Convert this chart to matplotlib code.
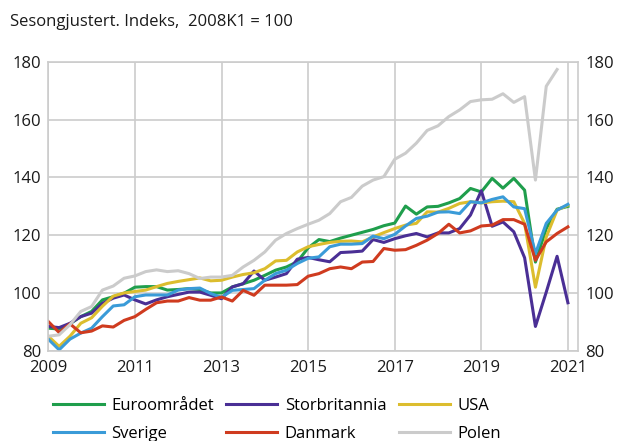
import numpy as np
import matplotlib
matplotlib.use("Agg")
import matplotlib.pyplot as plt

plt.rcParams['font.family'] = ['Open Sans', 'DejaVu Sans']

# kvartaler 2009K1 - 2021K1
kvartal = [f"{aar}K{k}" for aar in range(2009, 2022) for k in range(1, 5)][:49]
tid = np.array([int(q[:4]) + (int(q[-1]) - 1) / 4 for q in kvartal])

euro = [87.8, 87.5, 89.3, 91.8, 93.6, 97.6, 98.7, 99.9, 102.0, 102.2, 102.2, 101.0,
        101.2, 101.5, 101.2, 100.0, 100.0, 102.1, 103.2, 104.4, 106.1, 107.9, 109.0, 110.8,
        115.6, 118.5, 117.8, 119.0, 120.0, 121.0, 122.0, 123.3, 124.2, 130.1, 127.3, 129.8,
        130.0, 131.2, 132.7, 136.2, 135.0, 139.7, 136.3, 139.7, 135.6, 110.7, 122.3, 129.0,
        130.0]
uk = [88.4, 88.0, 89.5, 91.8, 93.0, 96.4, 98.2, 99.3, 97.6, 96.2, 97.6, 98.7,
      99.5, 100.3, 100.3, 99.2, 98.0, 102.1, 103.2, 107.6, 104.4, 105.5, 106.7, 111.7,
      112.3, 111.5, 110.8, 114.0, 114.2, 114.5, 118.5, 117.5, 118.8, 119.8, 120.6, 119.4,
      120.8, 120.8, 122.3, 127.0, 135.4, 123.1, 124.6, 121.2, 112.2, 88.4, 100.3, 112.7,
      96.6]
usa = [85.0, 81.5, 85.0, 89.5, 91.4, 95.4, 98.9, 100.0, 100.5, 101.0, 102.2, 103.3,
       104.0, 104.6, 105.2, 104.2, 104.4, 105.5, 106.4, 107.0, 108.4, 111.1, 111.3, 114.2,
       116.0, 116.8, 117.5, 117.9, 118.0, 117.7, 119.4, 120.9, 122.3, 123.5, 124.1, 128.1,
       128.0, 129.3, 131.0, 131.6, 131.2, 131.6, 131.8, 131.6, 124.1, 102.0, 119.4, 128.7,
       130.4]
sverige = [84.0, 80.3, 84.0, 86.1, 87.8, 91.8, 95.5, 95.9, 98.7, 99.3, 99.3, 99.3,
           101.0, 101.5, 101.7, 99.8, 98.5, 100.9, 101.2, 101.5, 104.4, 106.7, 107.9, 110.2,
           112.0, 112.5, 116.0, 116.9, 116.9, 117.1, 119.7, 118.8, 120.3, 123.2, 125.8, 126.6,
           128.0, 128.1, 127.5, 131.6, 131.2, 132.4, 133.3, 129.8, 129.2, 113.6, 124.1, 128.7,
           130.7]
danmark = [90.1, 86.3, 89.3, 86.2, 86.8, 88.6, 88.2, 90.5, 91.8, 94.3, 96.6, 97.2,
           97.2, 98.4, 97.5, 97.5, 98.6, 97.2, 100.9, 99.2, 102.7, 102.7, 102.7, 102.9,
           105.8, 106.7, 108.4, 109.0, 108.4, 110.7, 110.9, 115.4, 114.8, 115.0, 116.5, 118.3,
           120.6, 123.8, 120.8, 121.5, 123.2, 123.5, 125.4, 125.4, 123.8, 111.3, 117.7, 120.6,
           122.9]
polen = [85.0, 85.5, 89.0, 93.6, 95.3, 101.0, 102.4, 105.1, 105.9, 107.4, 108.0, 107.4,
         107.7, 106.7, 105.0, 105.5, 105.5, 106.1, 109.0, 111.3, 114.2, 118.3, 120.6, 122.3,
         123.8, 125.2, 127.5, 131.6, 133.1, 137.0, 139.1, 140.3, 146.3, 148.4, 151.9, 156.3,
         157.9, 161.1, 163.4, 166.3, 166.9, 167.1, 169.0, 166.0, 168.0, 139.1, 171.6, 177.4]

serier = [
    ("Euroområdet", euro, "#1f9e4c"),
    ("Storbritannia", uk, "#4a2f95"),
    ("USA", usa, "#dcbd2e"),
    ("Sverige", sverige, "#3a9bd8"),
    ("Danmark", danmark, "#cf3b1f"),
    ("Polen", polen, "#cbcbcb"),
]

fig = plt.figure(figsize=(6.17, 4.41), dpi=100)
ax = fig.add_axes([48.3/617, 1-350.7/441, (578.3-48.3)/617, (350.7-62)/441])

linjer = []
for navn, verdier, farge in serier:
    l, = ax.plot(tid[:len(verdier)], verdier, color=farge, linewidth=2.2, label=navn)
    linjer.append(l)

ax.set_xlim(2009, 2021.24)
ax.set_ylim(80, 180)
ax.set_xticks(range(2009, 2022, 2))
ax.set_yticks(range(80, 181, 20))
ax.grid(True, color='#cccccc', linewidth=1.2)
ax.set_axisbelow(True)
for s in ax.spines.values():
    s.set_color('#cccccc')
    s.set_linewidth(1.2)
ax.tick_params(length=0, labelsize=12, colors='#1a1a1a')
ax.tick_params(axis='y', labelright=True, right=False, pad=5)
ax.tick_params(axis='x', pad=7)

fig.text(10/617, 1-22/441, "Sesongjustert. Indeks,  2008K1 = 100",
         fontsize=12, va='center', ha='left', color='#1a1a1a')

# legenden fylles kolonnevis, saa rekkefolgen byttes for aa faa rader
rekkef = [0, 3, 1, 4, 2, 5]
ax.legend([linjer[i] for i in rekkef], [serier[i][0] for i in rekkef],
          ncol=3, loc='upper left', bbox_to_anchor=(53/617, 1-398/441),
          bbox_transform=fig.transFigure, frameon=False, fontsize=12,
          handlelength=3.05, handletextpad=0.45, columnspacing=0.75,
          labelspacing=0.72, borderpad=0, borderaxespad=0)

fig.savefig("out.png", dpi=100)
